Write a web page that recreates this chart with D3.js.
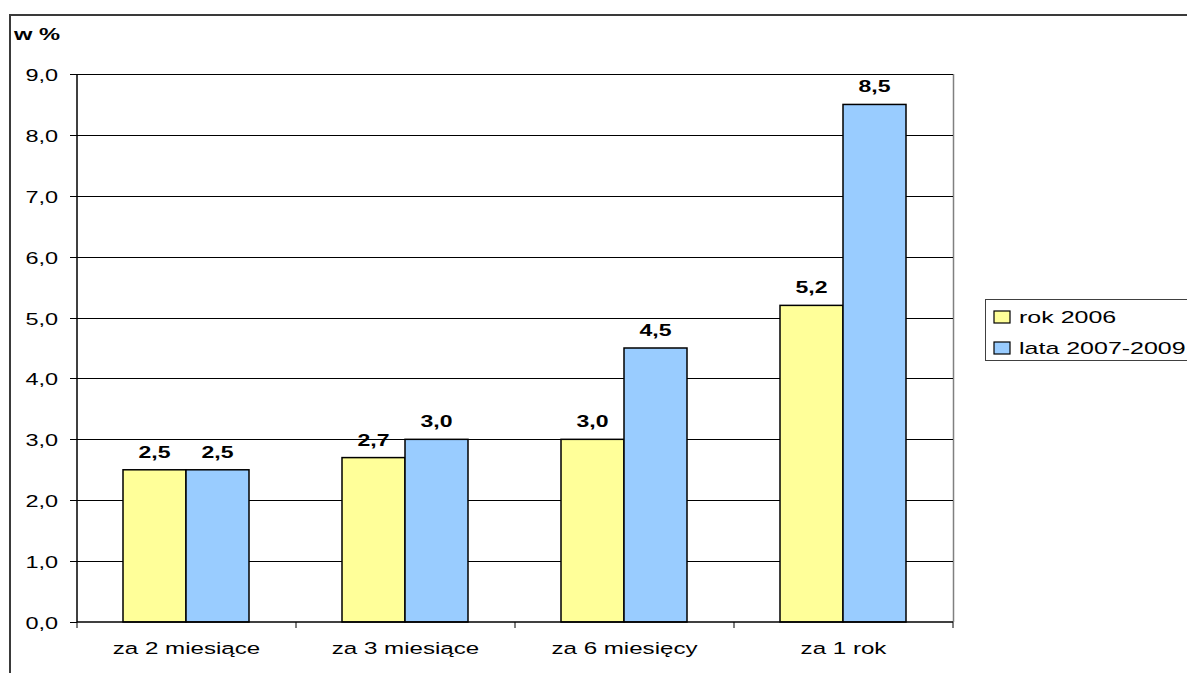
<!DOCTYPE html>
<html><head><meta charset="utf-8">
<script src="https://cdn.jsdelivr.net/npm/d3@7"></script>
<style>body{margin:0;background:#fff}svg{display:block}text{font-family:"Liberation Sans",Arial,sans-serif;fill:#000}</style>
</head><body><svg id="c" width="1187" height="673"></svg>
<script>
const categories = ["za 2 miesiące","za 3 miesiące","za 6 miesięcy","za 1 rok"];
const seriesNames = ["rok 2006","lata 2007-2009"];
const rok2006 = [2.5, 2.7, 3.0, 5.2];
const lata20072009 = [2.5, 3.0, 4.5, 8.5];
const yTicks = [0,1,2,3,4,5,6,7,8,9];
const colors = ["#FFFF99","#99CCFF"];
const series = [rok2006, lata20072009];

const SX = 1.44;
const svg = d3.select("#c");
const fmt = v => v.toFixed(1).replace(".", ",");

function txt(g, x, y, s, opts) {
  opts = opts || {};
  const t = g.append("g").attr("transform", `translate(${x},${y}) scale(${opts.sx||SX},1)`)
    .append("text").text(s)
    .attr("font-size", opts.size || 17)
    .attr("text-anchor", opts.anchor || "start");
  if (opts.bold) t.attr("font-weight", "bold");
  return t;
}

// outer border
svg.append("rect").attr("x",10).attr("y",15).attr("width",1300).attr("height",800)
  .attr("fill","none").attr("stroke","#3a3a3a").attr("stroke-width",2);

const x0 = 77, x1 = 953, yTop = 74, yBot = 622;
const x = d3.scaleBand().domain(categories).range([x0, x1]).paddingInner(0).paddingOuter(0);
const inner = d3.scaleBand().domain(seriesNames).range([46, 172]).padding(0);
const y = d3.scaleLinear().domain([0, 9]).range([yBot, yTop]);

// plot area right border (gray)
svg.append("line").attr("x1",x1+0.5).attr("x2",x1+0.5).attr("y1",yTop).attr("y2",yBot).attr("stroke","#808080").attr("stroke-width",1.5);

// gridlines
svg.append("g").selectAll("line").data(yTicks.filter(d=>d>0)).join("line")
  .attr("x1",x0).attr("x2",x1).attr("y1",d=>Math.round(y(d))+0.5).attr("y2",d=>Math.round(y(d))+0.5)
  .attr("stroke","#000").attr("stroke-width",1);

// bars
series.forEach((vals, si) => {
  svg.append("g").selectAll("rect").data(vals).join("rect")
    .attr("x", (d,i) => x(categories[i]) + inner(seriesNames[si]))
    .attr("y", d => y(d))
    .attr("width", inner.bandwidth())
    .attr("height", d => y(0) - y(d))
    .attr("fill", colors[si]).attr("stroke","#000").attr("stroke-width",1.5);
});

// axes lines
svg.append("line").attr("x1",x0).attr("x2",x0).attr("y1",yTop).attr("y2",yBot).attr("stroke","#000").attr("stroke-width",1.5);
svg.append("line").attr("x1",x0).attr("x2",x1).attr("y1",yBot).attr("y2",yBot).attr("stroke","#000").attr("stroke-width",1.5);

// y ticks + labels
const ya = svg.append("g");
yTicks.forEach(t => {
  const yy = Math.round(y(t)) + 0.5;
  ya.append("line").attr("x1",70).attr("x2",x0).attr("y1",yy).attr("y2",yy).attr("stroke","#000");
  txt(ya, 58, yy + 6, fmt(t), {anchor:"end", size:17, sx:1.38});
});

// x ticks + labels
const xa = svg.append("g");
categories.concat([null]).forEach((c, i) => {
  const xx = c ? x(c) : x1;
  xa.append("line").attr("x1",xx).attr("x2",xx).attr("y1",yBot).attr("y2",yBot+6).attr("stroke","#000");
});
categories.forEach(c => txt(xa, x(c) + x.bandwidth()/2, 654, c, {anchor:"middle", size:17, sx:1.42}));

// data labels
series.forEach((vals, si) => {
  vals.forEach((v, i) => {
    txt(svg, x(categories[i]) + inner(seriesNames[si]) + inner.bandwidth()/2, y(v) - 12, fmt(v),
      {anchor:"middle", size:16, bold:true, sx:1.44});
  });
});

// y title
txt(svg, 14, 40, "w %", {size:16, bold:true, sx:1.48});

// legend
const lg = svg.append("g");
lg.append("rect").attr("x",985.5).attr("y",299.5).attr("width",260).attr("height",61)
  .attr("fill","#fff").attr("stroke","#404040").attr("stroke-width",1);
seriesNames.forEach((n, i) => {
  const cy = 317 + i * 31;
  lg.append("rect").attr("x",994).attr("y",cy-6).attr("width",16).attr("height",12)
    .attr("fill",colors[i]).attr("stroke","#000").attr("stroke-width",1.2);
  txt(lg, 1019, cy + 6, n, {size:17, sx:1.47});
});
</script></body></html>
